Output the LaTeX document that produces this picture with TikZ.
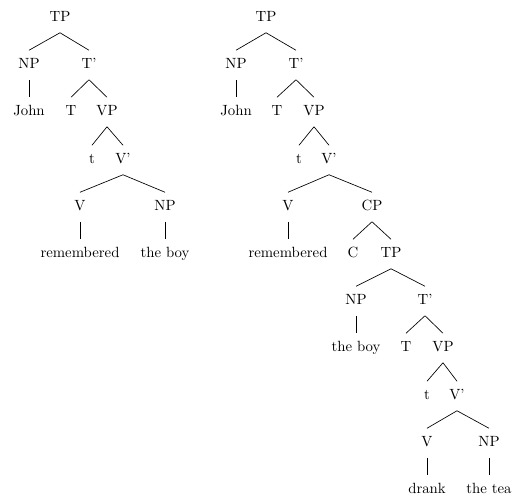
\documentclass[tikz,border=0pt]{standalone}
\usepackage{tikz}

\begin{document}
\begin{tikzpicture}[
    x=0.676pt, y=-0.676pt,
    every node/.style={inner sep=6pt, text height=1.5ex, text depth=.25ex},
    branch/.style={line width=0.45pt}
]
\useasboundingbox (0,0) rectangle (513,495);
% simple clause
\node (TP) at (60,18) {TP};
\node (NP) at (29,65) {NP};
\node (Tbar) at (89,65) {T'};
\node (John) at (29,112) {John};
\node (T) at (71,112) {T};
\node (VP) at (107,112) {VP};
\node (trace) at (92,160) {t};
\node (Vbar) at (123,160) {V'};
\node (V) at (80,207) {V};
\node (obj) at (165,207) {NP};
\node (remembered) at (80,254) {remembered};
\node (theboy) at (165,254) {the boy};

\draw [branch] (TP.south) -- (NP.north);
\draw [branch] (TP.south) -- (Tbar.north);
\draw [branch] (NP.south) -- (John.north);
\draw [branch] (Tbar.south) -- (T.north);
\draw [branch] (Tbar.south) -- (VP.north);
\draw [branch] (VP.south) -- (trace.north);
\draw [branch] (VP.south) -- (Vbar.north);
\draw [branch] (Vbar.south) -- (V.north);
\draw [branch] (Vbar.south) -- (obj.north);
\draw [branch] (V.south) -- (remembered.north);
\draw [branch] (obj.south) -- (theboy.north);

% embedded clause
\node (TPm) at (266,18) {TP};
\node (NPm) at (236,65) {NP};
\node (Tbarm) at (296,65) {T'};
\node (Johnm) at (236,112) {John};
\node (Tm) at (277,112) {T};
\node (VPm) at (314,112) {VP};
\node (tracem) at (299,160) {t};
\node (Vbarm) at (329,160) {V'};
\node (Vm) at (288,207) {V};
\node (CP) at (372,207) {CP};
\node (rememberedm) at (288,254) {remembered};
\node (C) at (353,254) {C};
\node (TPe) at (391,254) {TP};
\node (NPe) at (356,301) {NP};
\node (Tbare) at (425,301) {T'};
\node (theboye) at (356,348) {the boy};
\node (Te) at (406,348) {T};
\node (VPe) at (443,348) {VP};
\node (tracee) at (427,396) {t};
\node (Vbare) at (457,396) {V'};
\node (Ve) at (427,443) {V};
\node (obje) at (489,443) {NP};
\node (drank) at (427,490) {drank};
\node (thetea) at (489,490) {the tea};

\draw [branch] (TPm.south) -- (NPm.north);
\draw [branch] (TPm.south) -- (Tbarm.north);
\draw [branch] (NPm.south) -- (Johnm.north);
\draw [branch] (Tbarm.south) -- (Tm.north);
\draw [branch] (Tbarm.south) -- (VPm.north);
\draw [branch] (VPm.south) -- (tracem.north);
\draw [branch] (VPm.south) -- (Vbarm.north);
\draw [branch] (Vbarm.south) -- (Vm.north);
\draw [branch] (Vbarm.south) -- (CP.north);
\draw [branch] (Vm.south) -- (rememberedm.north);
\draw [branch] (CP.south) -- (C.north);
\draw [branch] (CP.south) -- (TPe.north);
\draw [branch] (TPe.south) -- (NPe.north);
\draw [branch] (TPe.south) -- (Tbare.north);
\draw [branch] (NPe.south) -- (theboye.north);
\draw [branch] (Tbare.south) -- (Te.north);
\draw [branch] (Tbare.south) -- (VPe.north);
\draw [branch] (VPe.south) -- (tracee.north);
\draw [branch] (VPe.south) -- (Vbare.north);
\draw [branch] (Vbare.south) -- (Ve.north);
\draw [branch] (Vbare.south) -- (obje.north);
\draw [branch] (Ve.south) -- (drank.north);
\draw [branch] (obje.south) -- (thetea.north);
\end{tikzpicture}
\end{document}
